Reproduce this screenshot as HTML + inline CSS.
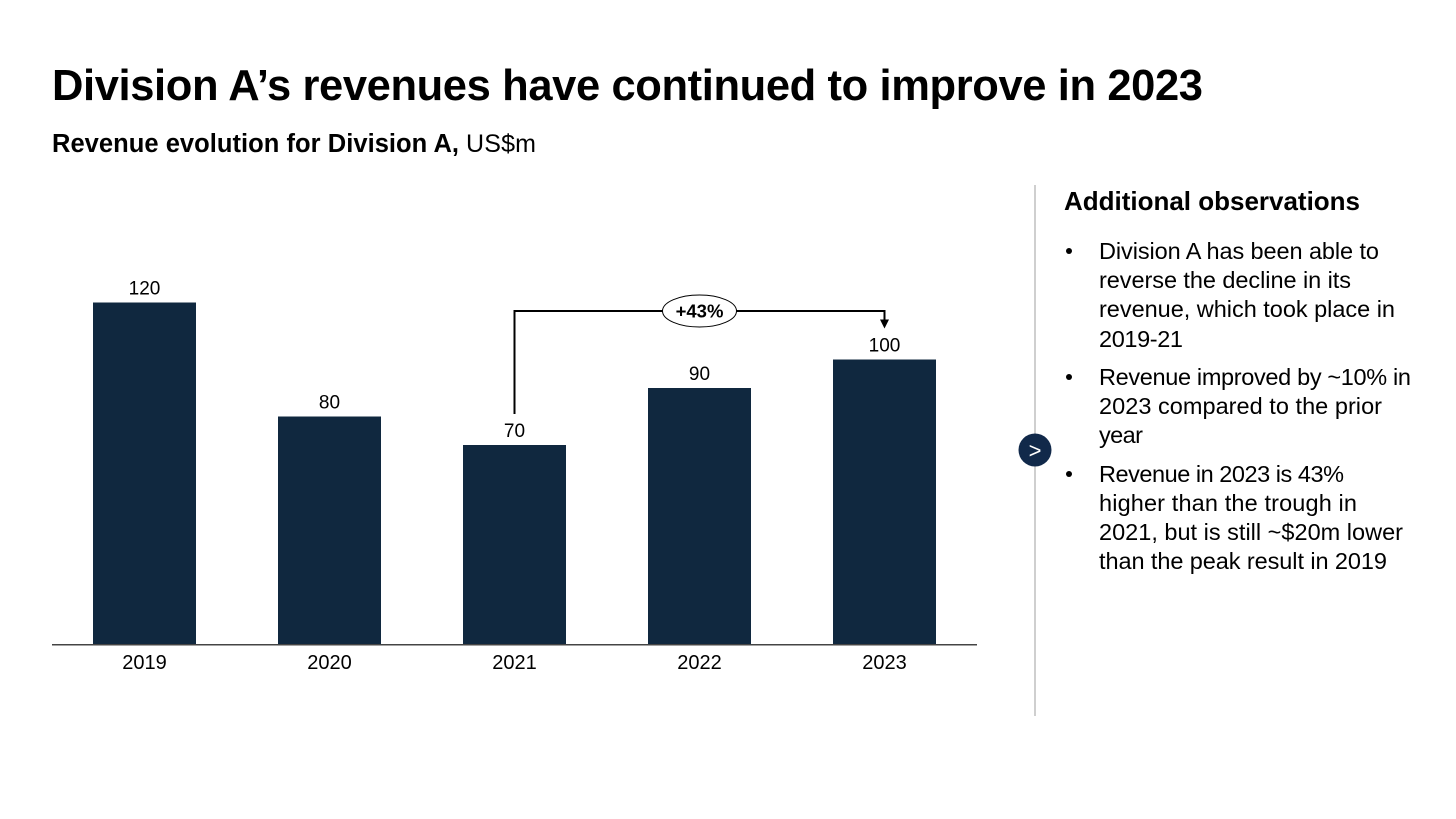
<!DOCTYPE html>
<html lang="en">
<head>
<meta charset="utf-8">
<title>Division A revenue</title>
<style>
html,body{margin:0;padding:0;background:#fff;width:1456px;height:819px;overflow:hidden}
svg{display:block;font-family:"Liberation Sans",sans-serif}
</style>
</head>
<body>
<svg id="slide" xmlns="http://www.w3.org/2000/svg" width="1456" height="819" viewBox="0 0 1456 819">
  <rect x="0" y="0" width="1456" height="819" fill="#ffffff"/>
  <text x="52" y="100" font-size="43.5" font-weight="700" fill="#000" textLength="1151" lengthAdjust="spacing">Division A’s revenues have continued to improve in 2023</text>
  <text x="52" y="152" font-size="25.5" font-weight="700" fill="#000" textLength="407" lengthAdjust="spacing">Revenue evolution for Division A,</text>
  <text x="466" y="152" font-size="25" fill="#000" textLength="70" lengthAdjust="spacing">US$m</text>

  <g id="chart"></g>

  <line x1="1035" y1="185" x2="1035" y2="716" stroke="#cfcfcf" stroke-width="2"/>
  <circle cx="1035" cy="450" r="16.5" fill="#11294a"/>
  <text x="1035" y="458" font-size="22" fill="#fff" text-anchor="middle">&gt;</text>

  <g fill="#000">
    <text x="1064" y="210" font-size="26" font-weight="700" textLength="296" lengthAdjust="spacing">Additional observations</text>

    <circle cx="1069" cy="251" r="3"/>
    <text x="1099" y="259" font-size="23.5" textLength="280" lengthAdjust="spacing">Division A has been able to</text>
    <text x="1099" y="288" font-size="23.5" textLength="252" lengthAdjust="spacing">reverse the decline in its</text>
    <text x="1099" y="317" font-size="23.5" textLength="296" lengthAdjust="spacing">revenue, which took place in</text>
    <text x="1099" y="347" font-size="23.5" textLength="84" lengthAdjust="spacing">2019-21</text>

    <circle cx="1069" cy="377" r="3"/>
    <text x="1099" y="385" font-size="23.5" textLength="312" lengthAdjust="spacing">Revenue improved by ~10% in</text>
    <text x="1099" y="414" font-size="23.5" textLength="283" lengthAdjust="spacing">2023 compared to the prior</text>
    <text x="1099" y="443" font-size="23.5" textLength="44" lengthAdjust="spacing">year</text>

    <circle cx="1069" cy="474" r="3"/>
    <text x="1099" y="482" font-size="23.5" textLength="245" lengthAdjust="spacing">Revenue in 2023 is 43%</text>
    <text x="1099" y="511" font-size="23.5" textLength="258" lengthAdjust="spacing">higher than the trough in</text>
    <text x="1099" y="540" font-size="23.5" textLength="304" lengthAdjust="spacing">2021, but is still ~$20m lower</text>
    <text x="1099" y="569" font-size="23.5" textLength="288" lengthAdjust="spacing">than the peak result in 2019</text>
  </g>
</svg>
<script>
const categories = ['2019', '2020', '2021', '2022', '2023'];
const revenue = [120, 80, 70, 90, 100];
const growthFromCategory = '2021';
const growthToCategory = '2023';

const NS = 'http://www.w3.org/2000/svg';
const chart = document.getElementById('chart');
const plotLeft = 52;
const plotRight = 977;
const baselineY = 644.5;
const pixelsPerUnit = 2.85;
const bandWidth = (plotRight - plotLeft) / categories.length;
const barWidth = 103;

function xCenter(category) {
  return plotLeft + bandWidth * (categories.indexOf(category) + 0.5);
}
function yValue(value) {
  return baselineY - value * pixelsPerUnit;
}
function make(tag, attrs, parent) {
  const el = document.createElementNS(NS, tag);
  for (const k in attrs) el.setAttribute(k, attrs[k]);
  parent.appendChild(el);
  return el;
}

categories.forEach(function (category, i) {
  const cx = xCenter(category);
  const top = yValue(revenue[i]);

  const bar = make('rect', { x: cx - barWidth / 2, y: top, width: barWidth, height: baselineY - top, fill: '#10283f' }, chart);
  
  

  const label = make('text', { x: cx, y: top - 8, 'font-size': 19, 'text-anchor': 'middle', fill: '#000' }, chart);
  
  
  label.textContent = String(revenue[i]);

  const tick = make('text', { x: cx, y: 669, 'font-size': 20, 'text-anchor': 'middle', fill: '#000' }, chart);
  
  
  tick.textContent = category;
});

const axis = make('line', { x1: plotLeft, y1: baselineY + 0.3, x2: plotRight, y2: baselineY + 0.3, stroke: '#444444', 'stroke-width': 1.5 }, chart);



const fromIndex = categories.indexOf(growthFromCategory);
const toIndex = categories.indexOf(growthToCategory);
const fromX = xCenter(growthFromCategory);
const toX = xCenter(growthToCategory);
const fromTop = yValue(revenue[fromIndex]);
const toTop = yValue(revenue[toIndex]);
const bracketY = Math.min(fromTop, toTop) - 48.5;
const arrowTip = toTop - 31;

const bracket = make('path', {
  d: 'M' + fromX + ' ' + (fromTop - 31) + 'V' + bracketY + 'H' + toX + 'V' + (arrowTip - 8),
  fill: 'none', stroke: '#000', 'stroke-width': 2
}, chart);



const arrow = make('path', {
  d: 'M' + (toX - 4.5) + ' ' + (arrowTip - 9) + 'H' + (toX + 4.5) + 'L' + toX + ' ' + arrowTip + 'Z',
  fill: '#000'
}, chart);



const ovalX = (fromX + toX) / 2;
const oval = make('ellipse', { cx: ovalX, cy: bracketY, rx: 37, ry: 16, fill: '#fff', stroke: '#000', 'stroke-width': 1 }, chart);



const growthLabel = make('text', { x: ovalX, y: bracketY + 6.5, 'font-size': 18.5, 'font-weight': 700, 'text-anchor': 'middle', fill: '#000' }, chart);


growthLabel.textContent = '+' + Math.round((revenue[toIndex] / revenue[fromIndex] - 1) * 100) + '%';
</script>
</body>
</html>
